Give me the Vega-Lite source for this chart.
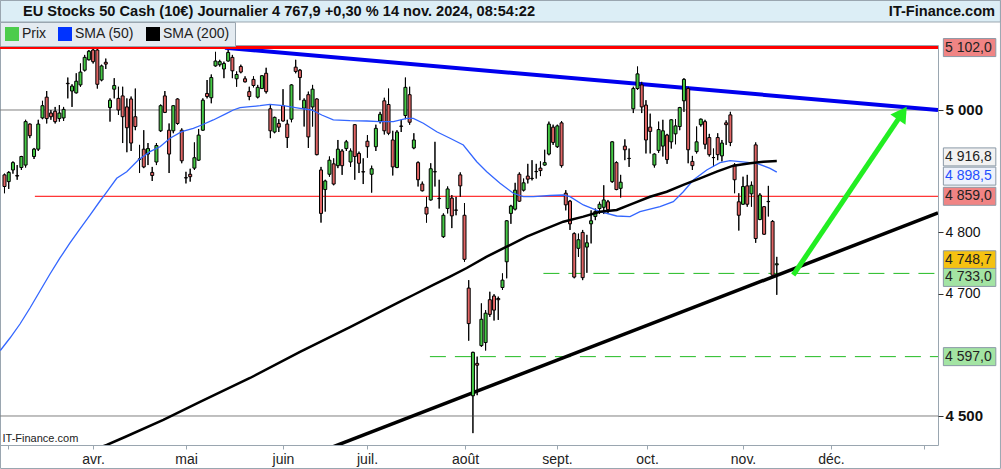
{
"$schema": "https://vega.github.io/schema/vega-lite/v6.json",
"width": 938, "height": 400,
"autosize": "none",
"padding": {"left": 0, "top": 45, "right": 63, "bottom": 24},
"background": "white",
"config": {"font": "Liberation Sans", "view": {"stroke": "#9aa6b0", "strokeWidth": 1}, "axis": {"labelFont": "Liberation Sans", "titleFont": "Liberation Sans"}, "legend": {"labelFont": "Liberation Sans"}},
"datasets": {
"header": [
{"t":"EU Stocks 50 Cash (10€) Journalier 4 767,9 +0,30 % 14 nov. 2024, 08:54:22","side":"left"},
{"t":"IT-Finance.com","side":"right"}
],
"candles": [
{"i":0,"o":4894,"h":4896,"l":4864,"c":4875},{"i":1,"o":4883,"h":4900,"l":4871,"c":4898},{"i":2,"o":4902,"h":4916,"l":4896,"c":4914},{"i":3,"o":4893,"h":4910,"l":4886,"c":4892},{"i":4,"o":4906,"h":4925,"l":4902,"c":4924},{"i":5,"o":4910,"h":4984,"l":4906,"c":4981},{"i":6,"o":4977,"h":4978,"l":4954,"c":4958},{"i":7,"o":4924,"h":4938,"l":4920,"c":4936},{"i":8,"o":4936,"h":4984,"l":4933,"c":4977},{"i":9,"o":4987,"h":5015,"l":4985,"c":5007},
{"i":10,"o":5021,"h":5031,"l":4978,"c":4986},{"i":11,"o":4995,"h":5000,"l":4984,"c":4989},{"i":12,"o":4998,"h":5005,"l":4978,"c":4981},{"i":13,"o":4986,"h":5008,"l":4981,"c":4995},{"i":14,"o":4987,"h":5005,"l":4982,"c":5001},{"i":15,"o":5043.6,"h":5053,"l":5019,"c":5043},{"i":16,"o":5031,"h":5042,"l":5005,"c":5039},{"i":17,"o":5028,"h":5060,"l":5027,"c":5047},{"i":18,"o":5041,"h":5076,"l":5038,"c":5062},{"i":19,"o":5065,"h":5090,"l":5063,"c":5086},
{"i":20,"o":5082,"h":5098,"l":5081,"c":5096},{"i":21,"o":5098,"h":5101,"l":5076,"c":5079},{"i":22,"o":5098,"h":5101,"l":5035,"c":5042},{"i":23,"o":5049,"h":5074,"l":5047,"c":5072},{"i":24,"o":5078,"h":5084,"l":5067,"c":5075},{"i":25,"o":5004,"h":5019,"l":4981,"c":5016},{"i":26,"o":5034,"h":5052,"l":5019,"c":5040},{"i":27,"o":5019,"h":5038,"l":4992,"c":5000},{"i":28,"o":5023,"h":5038,"l":4946,"c":4989},{"i":29,"o":5005,"h":5019,"l":4931,"c":4971},
{"i":30,"o":5018,"h":5022,"l":4933,"c":4946},{"i":31,"o":4989,"h":5035,"l":4967,"c":4973},{"i":32,"o":4920,"h":4943,"l":4897,"c":4919.5},{"i":33,"o":4936,"h":4967,"l":4905,"c":4907},{"i":34,"o":4928,"h":4946,"l":4910,"c":4937},{"i":35,"o":4898,"h":4907,"l":4884,"c":4893},{"i":36,"o":4915,"h":4946,"l":4910,"c":4942},{"i":37,"o":4966,"h":5009,"l":4964,"c":5007},{"i":38,"o":5023,"h":5031,"l":4995,"c":4996},{"i":39,"o":4967,"h":4978,"l":4897,"c":4928},
{"i":40,"o":4966,"h":5008,"l":4962,"c":5007},{"i":41,"o":5018,"h":5019,"l":4976,"c":4978},{"i":42,"o":4967,"h":4970,"l":4913,"c":4917},{"i":43,"o":4889.4,"h":4899,"l":4880,"c":4889},{"i":44,"o":4895,"h":4904,"l":4883,"c":4891},{"i":45,"o":4905,"h":4947,"l":4902,"c":4922},{"i":46,"o":4918,"h":4969,"l":4917,"c":4959},{"i":47,"o":4967,"h":5019,"l":4966,"c":5016},{"i":48,"o":5027,"h":5049,"l":5019,"c":5022},{"i":49,"o":5020,"h":5058,"l":5011,"c":5053},
{"i":50,"o":5072,"h":5095,"l":5071,"c":5080},{"i":51,"o":5074,"h":5082,"l":5071,"c":5079},{"i":52,"o":5067,"h":5079,"l":5052,"c":5076},{"i":53,"o":5080,"h":5098,"l":5079,"c":5094},{"i":54,"o":5086,"h":5090,"l":5052,"c":5064},{"i":55,"o":5051,"h":5063,"l":5038,"c":5058},{"i":56,"o":5071,"h":5074,"l":5060,"c":5062},{"i":57,"o":5051,"h":5055,"l":5045,"c":5046},{"i":58,"o":5030,"h":5038,"l":5016,"c":5022},{"i":59,"o":5050,"h":5055,"l":5037,"c":5040},
{"i":60,"o":5021,"h":5041,"l":5019,"c":5037},{"i":61,"o":5035,"h":5057,"l":5035,"c":5056},{"i":62,"o":5060,"h":5069,"l":5027,"c":5030},{"i":63,"o":5002,"h":5008,"l":4954,"c":4966},{"i":64,"o":4964,"h":4989,"l":4962,"c":4988},{"i":65,"o":4978,"h":4985,"l":4964,"c":4972},{"i":66,"o":5007,"h":5034,"l":4981,"c":4982},{"i":67,"o":4977,"h":4984,"l":4938,"c":4955},{"i":68,"o":4985,"h":5042,"l":4980,"c":5041},{"i":69,"o":5070,"h":5082,"l":5060,"c":5063},
{"i":70,"o":5065,"h":5067,"l":5016,"c":5053},{"i":71,"o":5003,"h":5019,"l":4973,"c":5016},{"i":72,"o":5025,"h":5030,"l":4938,"c":4956},{"i":73,"o":5005,"h":5041,"l":4973,"c":5034},{"i":74,"o":5018,"h":5019,"l":4926,"c":4927},{"i":75,"o":4902,"h":4907,"l":4816,"c":4831},{"i":76,"o":4870,"h":4886,"l":4834,"c":4884},{"i":77,"o":4895,"h":4924,"l":4891,"c":4918},{"i":78,"o":4912,"h":4921,"l":4877,"c":4879},{"i":79,"o":4909,"h":4951,"l":4905,"c":4936},
{"i":80,"o":4933,"h":4936,"l":4894,"c":4909},{"i":81,"o":4937,"h":4951,"l":4933,"c":4948},{"i":82,"o":4915,"h":4937,"l":4907,"c":4933},{"i":83,"o":4976,"h":4977,"l":4886,"c":4924},{"i":84,"o":4929,"h":4932,"l":4897,"c":4913},{"i":85,"o":4899.2,"h":4921,"l":4879,"c":4898.7},{"i":86,"o":4949,"h":4959,"l":4922,"c":4940},{"i":87,"o":4895,"h":4909,"l":4865,"c":4904},{"i":88,"o":4940,"h":4976,"l":4933,"c":4970},{"i":89,"o":4982,"h":4997,"l":4978,"c":4993},
{"i":90,"o":5015,"h":5020,"l":4960,"c":4966},{"i":91,"o":5009,"h":5035,"l":4959,"c":4962},{"i":92,"o":4951,"h":4966,"l":4893,"c":4907},{"i":93,"o":4906,"h":4967,"l":4905,"c":4964},{"i":94,"o":4973.8,"h":4984,"l":4964,"c":4973.3},{"i":95,"o":4991,"h":5053,"l":4985,"c":5037},{"i":96,"o":5025,"h":5038,"l":4976,"c":4980},{"i":97,"o":4938,"h":4962,"l":4936,"c":4951},{"i":98,"o":4914,"h":4916,"l":4875,"c":4886},{"i":99,"o":4879,"h":4883,"l":4867,"c":4868},
{"i":100,"o":4841,"h":4858,"l":4816,"c":4830},{"i":101,"o":4853,"h":4913,"l":4852,"c":4904},{"i":102,"o":4899.2,"h":4948,"l":4875,"c":4899},{"i":103,"o":4855.6,"h":4886,"l":4839,"c":4855.2},{"i":104,"o":4793,"h":4831,"l":4791,"c":4828},{"i":105,"o":4839,"h":4875,"l":4831,"c":4871},{"i":106,"o":4856,"h":4861,"l":4807,"c":4827},{"i":107,"o":4836.6,"h":4858,"l":4828,"c":4836.2},{"i":108,"o":4894,"h":4898,"l":4858,"c":4876},{"i":109,"o":4828,"h":4848,"l":4752,"c":4756},
{"i":110,"o":4709,"h":4722,"l":4623,"c":4651},{"i":111,"o":4533,"h":4605,"l":4472,"c":4604},{"i":112,"o":4586,"h":4597,"l":4534,"c":4583},{"i":113,"o":4615,"h":4684,"l":4613,"c":4658},{"i":114,"o":4620,"h":4673,"l":4607,"c":4668},{"i":115,"o":4690,"h":4703,"l":4662,"c":4666},{"i":116,"o":4696,"h":4699,"l":4656,"c":4673},{"i":117,"o":4692,"h":4695,"l":4657,"c":4690},{"i":118,"o":4710,"h":4733,"l":4706,"c":4722},{"i":119,"o":4752,"h":4820,"l":4725,"c":4819},
{"i":120,"o":4831,"h":4845,"l":4814,"c":4843},{"i":121,"o":4838,"h":4881,"l":4836,"c":4869},{"i":122,"o":4895,"h":4898,"l":4850,"c":4851},{"i":123,"o":4869,"h":4888,"l":4867,"c":4881},{"i":124,"o":4892,"h":4912,"l":4880,"c":4887},{"i":125,"o":4888.3,"h":4918,"l":4885,"c":4888},{"i":126,"o":4899.2,"h":4912,"l":4888,"c":4899.6},{"i":127,"o":4905,"h":4916,"l":4892,"c":4901},{"i":128,"o":4910,"h":4935,"l":4909,"c":4914},{"i":129,"o":4928,"h":4981,"l":4926,"c":4977},
{"i":130,"o":4972,"h":4976,"l":4943,"c":4947},{"i":131,"o":4940,"h":4976,"l":4938,"c":4974},{"i":132,"o":4979,"h":4982,"l":4906,"c":4909},{"i":133,"o":4864,"h":4869,"l":4836,"c":4845},{"i":134,"o":4851,"h":4853,"l":4804,"c":4814},{"i":135,"o":4798,"h":4800,"l":4725,"c":4727},{"i":136,"o":4774,"h":4798,"l":4760,"c":4788},{"i":137,"o":4800,"h":4804,"l":4722,"c":4726},{"i":138,"o":4776,"h":4796,"l":4734,"c":4783},{"i":139,"o":4814,"h":4836,"l":4782,"c":4819},
{"i":140,"o":4826,"h":4839,"l":4820,"c":4834},{"i":141,"o":4839,"h":4850,"l":4830,"c":4846},{"i":142,"o":4841,"h":4877,"l":4830,"c":4853},{"i":143,"o":4850,"h":4853,"l":4831,"c":4837},{"i":144,"o":4883,"h":4949,"l":4881,"c":4948},{"i":145,"o":4914,"h":4916,"l":4869,"c":4870},{"i":146,"o":4872,"h":4894,"l":4857,"c":4882},{"i":147,"o":4941,"h":4952,"l":4918,"c":4935},{"i":148,"o":4921,"h":4937,"l":4907,"c":4920.7},{"i":149,"o":5002,"h":5038,"l":4995,"c":5035},
{"i":150,"o":5035,"h":5071,"l":5033,"c":5059},{"i":151,"o":5041,"h":5046,"l":4995,"c":5005},{"i":152,"o":5008,"h":5016,"l":4929,"c":4951},{"i":153,"o":4972,"h":4994,"l":4929,"c":4965},{"i":154,"o":4910,"h":4929,"l":4906,"c":4928},{"i":155,"o":4934,"h":4981,"l":4930,"c":4968},{"i":156,"o":4941,"h":4984,"l":4924,"c":4966},{"i":157,"o":4959,"h":4961,"l":4912,"c":4919},{"i":158,"o":4948,"h":4985,"l":4937,"c":4984},{"i":159,"o":4961,"h":4985,"l":4944,"c":4974},
{"i":160,"o":4973,"h":5005,"l":4967,"c":5004},{"i":161,"o":5015,"h":5052,"l":4997,"c":5050},{"i":162,"o":5035,"h":5038,"l":4913,"c":4935},{"i":163,"o":4916,"h":4925,"l":4902,"c":4909},{"i":164,"o":4932,"h":4973,"l":4929,"c":4948},{"i":165,"o":4976,"h":4986,"l":4973,"c":4985},{"i":166,"o":4981,"h":4984,"l":4936,"c":4944},{"i":167,"o":4955,"h":4961,"l":4924,"c":4927},{"i":168,"o":4922.1,"h":4937,"l":4907,"c":4922.4},{"i":169,"o":4955,"h":4962,"l":4918,"c":4927},
{"i":170,"o":4925,"h":4951,"l":4916,"c":4946},{"i":171,"o":4979,"h":4983,"l":4943,"c":4976},{"i":172,"o":4992,"h":4997,"l":4941,"c":4947},{"i":173,"o":4910,"h":4913,"l":4864,"c":4886},{"i":174,"o":4850,"h":4864,"l":4803,"c":4828},{"i":175,"o":4846,"h":4891,"l":4845,"c":4875},{"i":176,"o":4876,"h":4894,"l":4842,"c":4846},{"i":177,"o":4863,"h":4883,"l":4842,"c":4877},{"i":178,"o":4943,"h":4947,"l":4783,"c":4790},{"i":179,"o":4821,"h":4864,"l":4820,"c":4861},
{"i":180,"o":4842,"h":4843,"l":4796,"c":4797},{"i":181,"o":4850.2,"h":4876,"l":4826,"c":4850.6},{"i":182,"o":4818,"h":4820,"l":4729,"c":4730},{"i":183,"o":4747,"h":4760,"l":4698,"c":4748.7}
],
"sma": [
{"s":"SMA (50)","i":-1.0,"v":4607},{"s":"SMA (50)","i":1.3,"v":4627.4},{"s":"SMA (50)","i":3.67,"v":4650.3},{"s":"SMA (50)","i":6.04,"v":4676.5},{"s":"SMA (50)","i":8.41,"v":4704.3},{"s":"SMA (50)","i":10.78,"v":4732},{"s":"SMA (50)","i":13.15,"v":4758.2},{"s":"SMA (50)","i":15.52,"v":4782.7},{"s":"SMA (50)","i":17.89,"v":4805.6},{"s":"SMA (50)","i":20.26,"v":4828.4},{"s":"SMA (50)","i":22.63,"v":4851.3},{"s":"SMA (50)","i":23.82,"v":4862.3},{"s":"SMA (50)","i":26.59,"v":4888.4},{"s":"SMA (50)","i":28.96,"v":4899.2},{"s":"SMA (50)","i":31.71,"v":4918.3},{"s":"SMA (50)","i":34.48,"v":4931.9},{"s":"SMA (50)","i":36.85,"v":4940},{"s":"SMA (50)","i":39.22,"v":4953.8},{"s":"SMA (50)","i":41.99,"v":4964.5},{"s":"SMA (50)","i":44.74,"v":4970.1},{"s":"SMA (50)","i":46.73,"v":4975.5},{"s":"SMA (50)","i":49.48,"v":4983.7},{"s":"SMA (50)","i":52.65,"v":4994.6},{"s":"SMA (50)","i":54.22,"v":5000},{"s":"SMA (50)","i":55.81,"v":5003.8},{"s":"SMA (50)","i":58.18,"v":5005.4},{"s":"SMA (50)","i":60.55,"v":5007},{"s":"SMA (50)","i":62.91,"v":5009.3},{"s":"SMA (50)","i":66.07,"v":5007},{"s":"SMA (50)","i":70.02,"v":5002.8},{"s":"SMA (50)","i":72.8,"v":5000},{"s":"SMA (50)","i":75.17,"v":4991.8},{"s":"SMA (50)","i":77.91,"v":4983.7},{"s":"SMA (50)","i":81.87,"v":4982.5},{"s":"SMA (50)","i":85.83,"v":4982},{"s":"SMA (50)","i":88.98,"v":4980.9},{"s":"SMA (50)","i":92.13,"v":4980.9},{"s":"SMA (50)","i":95.31,"v":4986.4},{"s":"SMA (50)","i":96.87,"v":4986.4},{"s":"SMA (50)","i":99.24,"v":4978.3},{"s":"SMA (50)","i":102.42,"v":4964.5},{"s":"SMA (50)","i":105.57,"v":4953.8},{"s":"SMA (50)","i":108.72,"v":4942.8},{"s":"SMA (50)","i":111.9,"v":4915.5},{"s":"SMA (50)","i":114.27,"v":4899.2},{"s":"SMA (50)","i":117.42,"v":4880.2},{"s":"SMA (50)","i":120.57,"v":4863.9},{"s":"SMA (50)","i":122.94,"v":4858.3},{"s":"SMA (50)","i":125.31,"v":4858.3},{"s":"SMA (50)","i":129.27,"v":4860.3},{"s":"SMA (50)","i":132.42,"v":4861.1},{"s":"SMA (50)","i":134.0,"v":4858.3},{"s":"SMA (50)","i":137.16,"v":4844.8},{"s":"SMA (50)","i":141.11,"v":4833.8},{"s":"SMA (50)","i":145.07,"v":4826.8},{"s":"SMA (50)","i":148.22,"v":4825.7},{"s":"SMA (50)","i":150.59,"v":4833.8},{"s":"SMA (50)","i":155.33,"v":4842},{"s":"SMA (50)","i":158.48,"v":4850.2},{"s":"SMA (50)","i":160.85,"v":4866.5},{"s":"SMA (50)","i":163.22,"v":4885.6},{"s":"SMA (50)","i":166.4,"v":4902},{"s":"SMA (50)","i":169.55,"v":4913.9},{"s":"SMA (50)","i":171.92,"v":4917.2},{"s":"SMA (50)","i":174.29,"v":4915.5},{"s":"SMA (50)","i":178.25,"v":4912.9},{"s":"SMA (50)","i":181.4,"v":4904.7},{"s":"SMA (50)","i":183.0,"v":4898.5},
{"s":"SMA (200)","i":21.45,"v":4446.1},{"s":"SMA (200)","i":24.22,"v":4452.6},{"s":"SMA (200)","i":28.55,"v":4465.7},{"s":"SMA (200)","i":37.63,"v":4493.5},{"s":"SMA (200)","i":46.33,"v":4522.9},{"s":"SMA (200)","i":58.18,"v":4562.1},{"s":"SMA (200)","i":70.02,"v":4604.6},{"s":"SMA (200)","i":81.87,"v":4645.4},{"s":"SMA (200)","i":93.72,"v":4686.8},{"s":"SMA (200)","i":96.87,"v":4697.7},{"s":"SMA (200)","i":101.61,"v":4714.1},{"s":"SMA (200)","i":105.57,"v":4727.6},{"s":"SMA (200)","i":109.53,"v":4741.8},{"s":"SMA (200)","i":114.27,"v":4760.3},{"s":"SMA (200)","i":119.0,"v":4776.6},{"s":"SMA (200)","i":123.74,"v":4793},{"s":"SMA (200)","i":128.48,"v":4806.7},{"s":"SMA (200)","i":132.42,"v":4817.5},{"s":"SMA (200)","i":137.16,"v":4825.7},{"s":"SMA (200)","i":141.11,"v":4833.8},{"s":"SMA (200)","i":145.07,"v":4836.6},{"s":"SMA (200)","i":149.0,"v":4847.5},{"s":"SMA (200)","i":152.96,"v":4858.3},{"s":"SMA (200)","i":156.92,"v":4866.5},{"s":"SMA (200)","i":160.85,"v":4877.5},{"s":"SMA (200)","i":164.81,"v":4888.4},{"s":"SMA (200)","i":168.77,"v":4899.2},{"s":"SMA (200)","i":172.7,"v":4909},{"s":"SMA (200)","i":176.66,"v":4912.9},{"s":"SMA (200)","i":179.81,"v":4915.5},{"s":"SMA (200)","i":183.0,"v":4916.8}
],
"trend": [
{"k":"down","i":52.25,"v":5101.6},{"k":"down","i":221.2,"v":5000},
{"k":"up","i":77.1,"v":4447.7},{"k":"up","i":221.2,"v":4831.7},
{"k":"arrow","i":186.9,"v":4730.4},{"k":"arrow","i":212.75,"v":4994.8}
],
"hlines": [
{"k":"grid","v":5000,"i1":-1.07,"i2":221.2},{"k":"grid","v":4500,"i1":-1.07,"i2":221.2},
{"k":"res","v":5102,"i1":-1.07,"i2":221.2},
{"k":"sup","v":4859,"i1":7.2,"i2":221.2},
{"k":"dash","v":4733,"i1":127.7,"i2":221.2},{"k":"dash","v":4597,"i1":100.8,"i2":221.2}
],
"boxes": [
{"v":5102,"t":"5 102,0"},{"v":4916.8,"t":"4 916,8"},{"v":4898.5,"t":"4 898,5"},{"v":4859,"t":"4 859,0"},{"v":4748.7,"t":"4 748,7"},{"v":4733,"t":"4 733,0"},{"v":4597,"t":"4 597,0"}
]
},
"layer": [
{"data":{"values":[{}]},"mark":{"type":"rect","fill":"#dceef6","stroke":"#9aa6b0","strokeWidth":1,"clip":false},
 "encoding":{"x":{"datum":-0.947,"type":"quantitative"},"x2":{"datum":236.0},"y":{"datum":5178.9,"type":"quantitative"},"y2":{"datum":5143.8}}},
{"data":{"values":[{}]},"mark":{"type":"rect","fillOpacity":0,"stroke":"#9aa6b0","strokeWidth":1,"clip":false},
 "encoding":{"x":{"datum":-0.947,"type":"quantitative"},"x2":{"datum":236.0},"y":{"datum":5178.9,"type":"quantitative"},"y2":{"datum":4414.2}}},
{"data":{"name":"header"},"transform":[{"filter":"datum.side=='left'"}],"mark":{"type":"text","align":"left","baseline":"middle","fontSize":14.6,"fontWeight":"bold","color":"#111","clip":false},
 "encoding":{"x":{"datum":4.384,"type":"quantitative"},"y":{"datum":5160.1,"type":"quantitative"},"text":{"field":"t"}}},
{"data":{"name":"header"},"transform":[{"filter":"datum.side=='right'"}],"mark":{"type":"text","align":"right","baseline":"middle","fontSize":14.6,"fontWeight":"bold","color":"#111","clip":false},
 "encoding":{"x":{"datum":234.72,"type":"quantitative"},"y":{"datum":5160.1,"type":"quantitative"},"text":{"field":"t"}}},
{"data":{"name":"candles"},"mark":{"type":"rule","color":"#000000","strokeWidth":1},
 "encoding":{
  "x":{"field":"i","type":"quantitative","scale":{"domain":[-1.066,221.2],"nice":false,"zero":false,"padding":0},"axis":{"orient":"bottom","values":[0.83,20.97,43.01,65.99,85.9,109.12,130.92,152.25,175.0,195.85,217.9],"labelExpr":"datum.value < 10 || datum.value > 200 ? '' : ['avr.','mai','juin','juil.','août','sept.','oct.','nov.','déc.'][round((datum.value-21)/22)]","title":"IT-Finance.com","titleX":2,"titleY":-7,"titleAlign":"left","titleAnchor":"start","titleBaseline":"middle","titleFontSize":11,"titleFontWeight":"normal","titleColor":"#222","domain":false,"ticks":true,"tickSize":4,"tickColor":"#9aa6b0","labelFontSize":14,"labelColor":"#222","labelPadding":3,"grid":false}},
  "y":{"field":"l","type":"quantitative","scale":{"domain":[4452.6,5106.2],"nice":false,"zero":false,"padding":0},"axis":{"orient":"right","values":[4500,4700,4800,5000],"labelExpr":"replace(format(datum.value, ','), ',', ' ')","labelFontWeight":{"condition":{"test":"datum.value == 5000 || datum.value == 4500","value":"bold"},"value":"normal"},"labelFontSize":{"condition":{"test":"datum.value == 5000 || datum.value == 4500","value":15},"value":14},"labelColor":"#111","tickSize":5,"tickColor":"#333","domain":false,"grid":false,"labelPadding":2,"title":null}},
  "y2":{"field":"h"}}},
{"data":{"name":"hlines"},"transform":[{"filter":"datum.k=='grid'"}],"mark":{"type":"rule","color":"#808080","strokeWidth":1},
 "encoding":{"x":{"field":"i1","type":"quantitative"},"x2":{"field":"i2"},"y":{"field":"v","type":"quantitative"}}},
{"data":{"name":"hlines"},"transform":[{"filter":"datum.k=='dash'"}],"mark":{"type":"rule","color":"#22bb22","strokeWidth":1,"strokeDash":[16,9]},
 "encoding":{"x":{"field":"i1","type":"quantitative"},"x2":{"field":"i2"},"y":{"field":"v","type":"quantitative"}}},
{"data":{"name":"hlines"},"transform":[{"filter":"datum.k=='sup'"}],"mark":{"type":"rule","color":"#ff0000","strokeWidth":1},
 "encoding":{"x":{"field":"i1","type":"quantitative"},"x2":{"field":"i2"},"y":{"field":"v","type":"quantitative"}}},
{"data":{"name":"trend"},"transform":[{"filter":"datum.k=='down'"}],"mark":{"type":"line","color":"#0000ee","strokeWidth":4,"clip":true},
 "encoding":{"x":{"field":"i","type":"quantitative"},"y":{"field":"v","type":"quantitative"}}},
{"data":{"name":"trend"},"transform":[{"filter":"datum.k=='up'"}],"mark":{"type":"line","color":"#000000","strokeWidth":3.5,"clip":true},
 "encoding":{"x":{"field":"i","type":"quantitative"},"y":{"field":"v","type":"quantitative"}}},
{"data":{"name":"candles"},"mark":{"type":"rule","color":"#000000","strokeWidth":1},
 "encoding":{"x":{"field":"i","type":"quantitative"},"y":{"field":"l","type":"quantitative"},"y2":{"field":"h"}}},
{"data":{"name":"candles"},"mark":{"type":"bar","width":3,"stroke":"#000000","strokeWidth":1},
 "encoding":{"x":{"field":"i","type":"quantitative"},"y":{"field":"o","type":"quantitative"},"y2":{"field":"c"},
  "color":{"condition":{"test":"datum.c >= datum.o","value":"#45c945"},"value":"#e06464"}}},
{"data":{"name":"sma"},"transform":[{"filter":"datum.s=='SMA (50)'"}],"mark":{"type":"line","color":"#3366ff","strokeWidth":1.3,"clip":true},
 "encoding":{"x":{"field":"i","type":"quantitative"},"y":{"field":"v","type":"quantitative"}}},
{"data":{"name":"sma"},"transform":[{"filter":"datum.s=='SMA (200)'"}],"mark":{"type":"line","color":"#000000","strokeWidth":2.5,"clip":true},
 "encoding":{"x":{"field":"i","type":"quantitative"},"y":{"field":"v","type":"quantitative"}}},
{"data":{"name":"sma"},"mark":{"type":"square","size":0,"opacity":0},
 "encoding":{"x":{"field":"i","type":"quantitative"},"y":{"field":"v","type":"quantitative"},
  "color":{"field":"s","type":"nominal","scale":{"domain":["Prix","SMA (50)","SMA (200)"],"range":["#4ccc4c","#0033ff","#000000"]},
   "legend":{"orient":"none","legendX":0,"legendY":-23,"padding":5,"fillColor":"#e4ebf1","strokeColor":"#9aa6b0","direction":"horizontal","title":null,"symbolType":"square","symbolSize":196,"symbolOpacity":1,"symbolStrokeWidth":0,"labelFontSize":14,"labelColor":"#222","labelOffset":3,"columnPadding":11}}}},
{"data":{"name":"hlines"},"transform":[{"filter":"datum.k=='res'"}],"mark":{"type":"rule","color":"#ff0000","strokeWidth":3},
 "encoding":{"x":{"field":"i1","type":"quantitative"},"x2":{"field":"i2"},"y":{"field":"v","type":"quantitative"}}},
{"data":{"name":"trend"},"transform":[{"filter":"datum.k=='arrow'"}],"mark":{"type":"line","color":"#22ee22","strokeWidth":5},
 "encoding":{"x":{"field":"i","type":"quantitative"},"y":{"field":"v","type":"quantitative"}}},
{"data":{"name":"trend"},"transform":[{"filter":"datum.k=='arrow' && datum.i > 200"}],"mark":{"type":"point","shape":"triangle-up","filled":true,"color":"#22ee22","size":331,"angle":34,"opacity":1},
 "encoding":{"x":{"field":"i","type":"quantitative"},"y":{"field":"v","type":"quantitative"}}},
{"data":{"name":"boxes"},"transform":[{"filter":"datum.v==4916.8 || datum.v==4748.7"}],
 "encoding":{"y":{"field":"v","type":"quantitative"}},
 "layer":[
  {"mark":{"type":"bar","height":18,"stroke":"#8a98a6","strokeWidth":1,"yOffset":-4},"encoding":{"x":{"datum":222.47,"type":"quantitative"},"x2":{"datum":234.9},
   "color":{"condition":{"test":"datum.v==4748.7","value":"#f5c211"},"value":"#f2f2f2"}}},
  {"mark":{"type":"text","align":"left","baseline":"middle","fontSize":14,"yOffset":-4,"color":"#222"},"encoding":{"x":{"datum":222.87,"type":"quantitative"},"text":{"field":"t"}}}
 ]},
{"data":{"name":"boxes"},"transform":[{"filter":"datum.v==4898.5 || datum.v==4733"}],
 "encoding":{"y":{"field":"v","type":"quantitative"}},
 "layer":[
  {"mark":{"type":"bar","height":18,"stroke":"#8a98a6","strokeWidth":1,"yOffset":4},"encoding":{"x":{"datum":222.47,"type":"quantitative"},"x2":{"datum":234.9},
   "color":{"condition":{"test":"datum.v==4733","value":"#a3e4a3"},"value":"#eef2fb"}}},
  {"mark":{"type":"text","align":"left","baseline":"middle","fontSize":14,"yOffset":4},"encoding":{"x":{"datum":222.87,"type":"quantitative"},"text":{"field":"t"},
   "color":{"condition":{"test":"datum.v==4898.5","value":"#1f4fff"},"value":"#222"}}}
 ]},
{"data":{"name":"boxes"},"transform":[{"filter":"datum.v==5102 || datum.v==4859 || datum.v==4597"}],
 "encoding":{"y":{"field":"v","type":"quantitative"}},
 "layer":[
  {"mark":{"type":"bar","height":18,"stroke":"#8a98a6","strokeWidth":1},"encoding":{"x":{"datum":222.47,"type":"quantitative"},"x2":{"datum":234.9},
   "color":{"condition":{"test":"datum.v==4597","value":"#a3e4a3"},"value":"#f08484"}}},
  {"mark":{"type":"text","align":"left","baseline":"middle","fontSize":14,"color":"#222"},"encoding":{"x":{"datum":222.87,"type":"quantitative"},"text":{"field":"t"}}}
 ]}
]
}
